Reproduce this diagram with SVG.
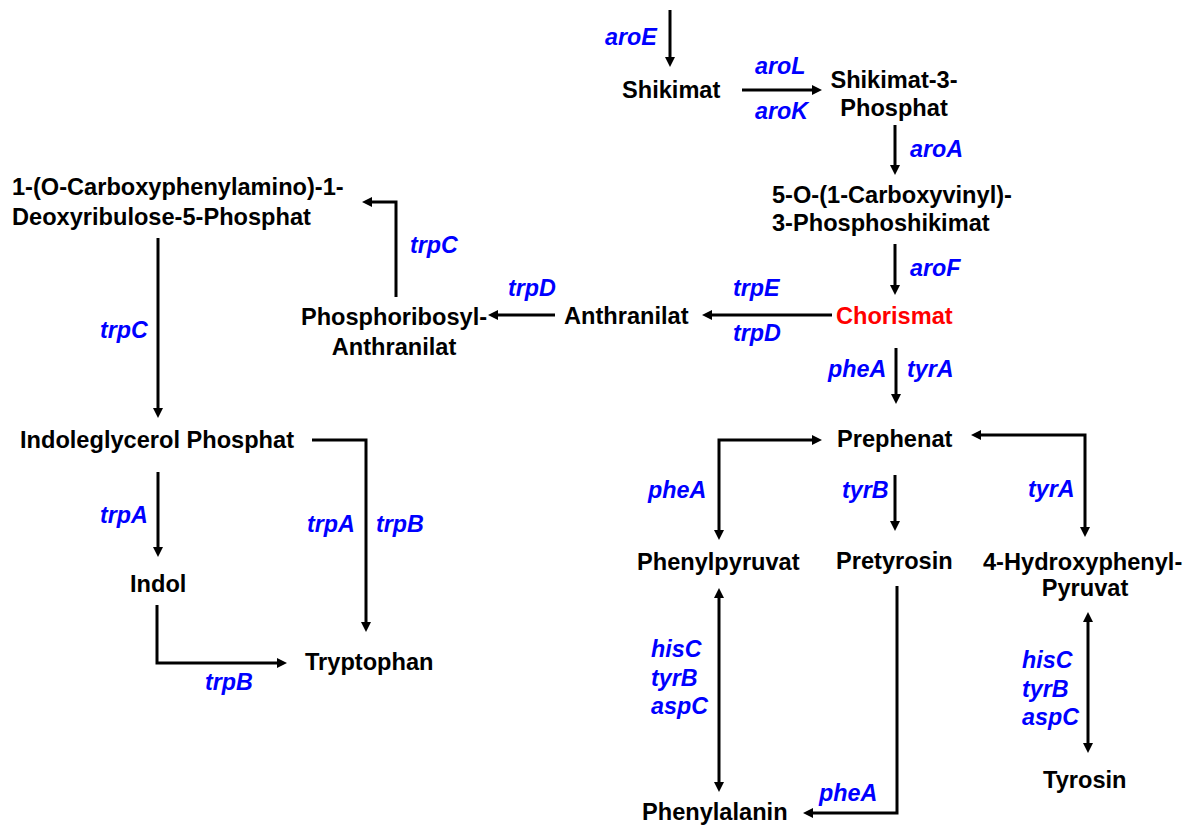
<svg xmlns="http://www.w3.org/2000/svg" width="1190" height="827" viewBox="0 0 1190 827">
<style>
.n{font-family:"Liberation Sans",Arial,sans-serif;font-weight:bold;font-size:23.6px;fill:#000}
.r{fill:#ff0000}
.e{font-family:"Liberation Sans",Arial,sans-serif;font-weight:bold;font-style:italic;font-size:23.3px;fill:#0000ff}
.c{fill:none;stroke:#000;stroke-width:3}
.m{text-anchor:middle}
</style>
<defs>
<marker id="ah" markerUnits="userSpaceOnUse" markerWidth="10" markerHeight="10" refX="2" refY="5" orient="auto-start-reverse" viewBox="0 0 10 10">
<path d="M0,0 L10,5 L0,10 z" fill="#000"/>
</marker>
</defs>
<rect width="1190" height="827" fill="#fff"/>
<g id="connectors">
<path class="c" d="M670,10 V59" marker-end="url(#ah)"/>
<path class="c" d="M742,90 H814" marker-end="url(#ah)"/>
<path class="c" d="M895,125 V167" marker-end="url(#ah)"/>
<path class="c" d="M895,244 V287" marker-end="url(#ah)"/>
<path class="c" d="M832,315 H710" marker-end="url(#ah)"/>
<path class="c" d="M555,315 H496" marker-end="url(#ah)"/>
<path class="c" d="M396,297 V202 H370" marker-end="url(#ah)"/>
<path class="c" d="M158,238 V410" marker-end="url(#ah)"/>
<path class="c" d="M312,440 H366 V624" marker-end="url(#ah)"/>
<path class="c" d="M158,472 V549" marker-end="url(#ah)"/>
<path class="c" d="M157,605 V663 H279" marker-end="url(#ah)"/>
<path class="c" d="M896,348 V396" marker-end="url(#ah)"/>
<path class="c" d="M814,440 H719 V532" marker-start="url(#ah)" marker-end="url(#ah)"/>
<path class="c" d="M895,475 V523" marker-end="url(#ah)"/>
<path class="c" d="M897,586 V813 H811" marker-end="url(#ah)"/>
<path class="c" d="M719,596 V784" marker-start="url(#ah)" marker-end="url(#ah)"/>
<path class="c" d="M979,435 H1085 V529" marker-start="url(#ah)" marker-end="url(#ah)"/>
<path class="c" d="M1088,620 V745" marker-start="url(#ah)" marker-end="url(#ah)"/>
</g>
<g id="labels">
<text class="e" x="605" y="45">aroE</text>
<text class="e" x="755" y="74">aroL</text>
<text class="e" x="755" y="119">aroK</text>
<text class="e" x="910" y="157">aroA</text>
<text class="e" x="910" y="276">aroF</text>
<text class="e" x="733" y="296">trpE</text>
<text class="e" x="733" y="341">trpD</text>
<text class="e" x="508" y="296">trpD</text>
<text class="e" x="410" y="253">trpC</text>
<text class="e" x="100" y="338">trpC</text>
<text class="e" x="100" y="523">trpA</text>
<text class="e" x="307" y="532">trpA</text>
<text class="e" x="376" y="532">trpB</text>
<text class="e" x="205" y="690">trpB</text>
<text class="e" x="828" y="377">pheA</text>
<text class="e" x="907" y="377">tyrA</text>
<text class="e" x="648" y="498">pheA</text>
<text class="e" x="842" y="498">tyrB</text>
<text class="e" x="1028" y="497">tyrA</text>
<text class="e" x="651" y="657">hisC</text>
<text class="e" x="651" y="686">tyrB</text>
<text class="e" x="651" y="714">aspC</text>
<text class="e" x="1022" y="668">hisC</text>
<text class="e" x="1022" y="697">tyrB</text>
<text class="e" x="1022" y="725">aspC</text>
<text class="e" x="819" y="801">pheA</text>
</g>
<g id="shikimat"><text class="n" x="622" y="98">Shikimat</text></g>
<g id="shikimat3p"><text class="n m" x="894" y="88">Shikimat-3-</text><text class="n m" x="894" y="116">Phosphat</text></g>
<g id="epsp"><text class="n" x="772" y="203">5-O-(1-Carboxyvinyl)-</text><text class="n" x="772" y="231">3-Phosphoshikimat</text></g>
<g id="chorismat"><text class="n r" x="836" y="324">Chorismat</text></g>
<g id="anthranilat"><text class="n" x="564" y="324">Anthranilat</text></g>
<g id="pra"><text class="n m" x="394" y="325">Phosphoribosyl-</text><text class="n m" x="394" y="355">Anthranilat</text></g>
<g id="cdrp"><text class="n" x="12" y="195">1-(O-Carboxyphenylamino)-1-</text><text class="n" x="12" y="225">Deoxyribulose-5-Phosphat</text></g>
<g id="igp"><text class="n" x="20" y="448">Indoleglycerol Phosphat</text></g>
<g id="indol"><text class="n" x="130" y="592">Indol</text></g>
<g id="tryptophan"><text class="n" x="305" y="670">Tryptophan</text></g>
<g id="prephenat"><text class="n" x="837" y="447">Prephenat</text></g>
<g id="phenylpyruvat"><text class="n" x="637" y="570">Phenylpyruvat</text></g>
<g id="pretyrosin"><text class="n" x="836" y="569">Pretyrosin</text></g>
<g id="hpp"><text class="n" x="983" y="570">4-Hydroxyphenyl-</text><text class="n m" x="1085" y="596">Pyruvat</text></g>
<g id="phenylalanin"><text class="n" x="642" y="820">Phenylalanin</text></g>
<g id="tyrosin"><text class="n" x="1043" y="788">Tyrosin</text></g>
</svg>
